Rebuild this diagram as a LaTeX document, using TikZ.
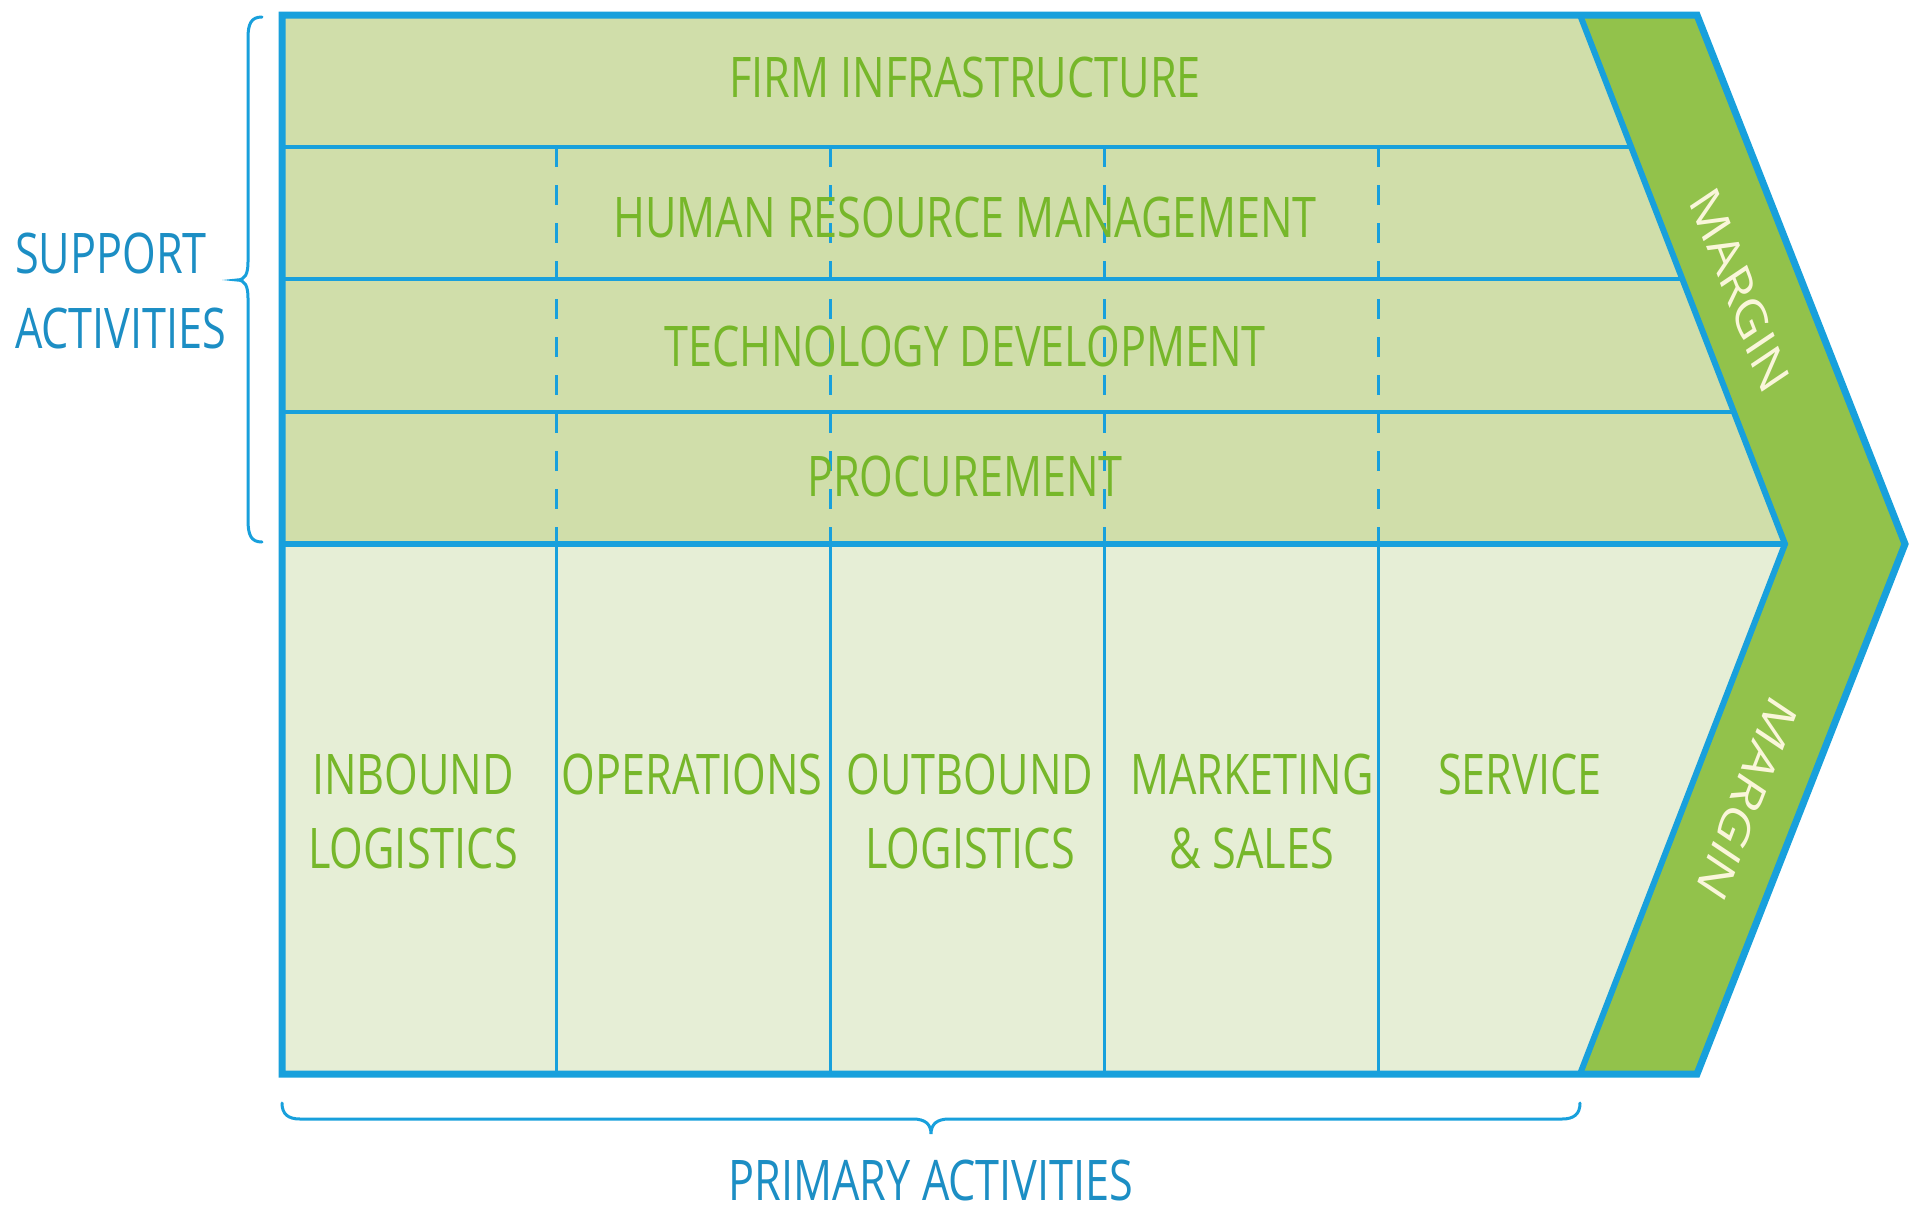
\documentclass[tikz,border=0pt]{standalone}
\usepackage{fontspec}
\setmainfont{Open Sans}
\newfontfamily\vcfont[FakeStretch=0.772]{Open Sans}
\definecolor{vcblue}{RGB}{24,160,220}
\definecolor{vctext}{RGB}{28,142,196}
\definecolor{vcgreen}{RGB}{118,183,42}
\definecolor{supfill}{RGB}{208,222,170}
\definecolor{prifill}{RGB}{230,238,214}
\definecolor{marfill}{RGB}{146,194,75}
\definecolor{marcream}{RGB}{250,246,218}
\begin{document}
\begin{tikzpicture}[x=1pt,y=-1pt,
  lbl/.style={font=\vcfont\fontsize{56}{64}\selectfont, text=vcgreen, inner sep=0pt, anchor=base},
  side/.style={font=\vcfont\fontsize{56}{64}\selectfont, text=vctext, inner sep=0pt},
  mtext/.style={font=\fontsize{56}{64}\selectfont, text=marcream, inner sep=0pt},
  rowline/.style={draw=vcblue, line width=3.5pt},
  colline/.style={draw=vcblue, line width=3pt},
  dashline/.style={draw=vcblue, line width=3pt, dash pattern=on 20pt off 18pt},
  bracestyle/.style={draw=vcblue, line width=3pt, line cap=round}]
\fill[white] (0,0) rectangle (1911,1210);
\useasboundingbox (0,0) rectangle (1911,1210);
% fills
\fill[supfill] (282,15) -- (1580,15) -- (1785,544) -- (282,544) -- cycle;
\fill[prifill] (282,544) -- (1785,544) -- (1580,1074) -- (282,1074) -- cycle;
\fill[marfill] (1580,15) -- (1697,15) -- (1905,544) -- (1697,1074) -- (1580,1074) -- (1785,544) -- cycle;
% dashed columns (support) and solid columns (primary)
\foreach \x in {556,830,1104,1378} {
  \draw[dashline] (\x,147) -- (\x,544);
  \draw[colline] (\x,544) -- (\x,1074);
}
% row lines
\draw[rowline] (282,147) -- (1631,147);
\draw[rowline] (282,279) -- (1682,279);
\draw[rowline] (282,412) -- (1734,412);
% divider
\draw[draw=vcblue, line width=6pt] (282,544) -- (1785,544);
% inner chevron
\draw[draw=vcblue, line width=6pt, line join=miter] (1580,15) -- (1785,544) -- (1580,1074);
% outer outline
\draw[draw=vcblue, line width=7pt, line join=miter] (282,15) -- (1697,15) -- (1905,544) -- (1697,1074) -- (282,1074) -- cycle;
% braces
\draw[bracestyle] (262,17) .. controls (251,17) and (248,24) .. (248,38) -- (248,262)
  .. controls (248,274) and (245,280) .. (237,280)
  .. controls (245,280) and (248,286) .. (248,298) -- (248,520)
  .. controls (248,535) and (251,542) .. (262,542);
\draw[bracestyle] (282,1103) .. controls (282,1114) and (288,1119) .. (300,1119) -- (913,1119)
  .. controls (925,1119) and (931,1124) .. (931,1134)
  .. controls (931,1124) and (937,1119) .. (949,1119) -- (1562,1119)
  .. controls (1574,1119) and (1580,1114) .. (1580,1103);
% support labels
\node[lbl] (firm) at (965,97) {FIRM INFRASTRUCTURE};
\node[lbl] (hrm) at (965,237) {HUMAN RESOURCE MANAGEMENT};
\node[lbl] (tech) at (965,366) {TECHNOLOGY DEVELOPMENT};
\node[lbl] (proc) at (965,496) {PROCUREMENT};
% primary labels
\node[lbl] (in1) at (413,794) {INBOUND};
\node[lbl] (in2) at (413,868) {LOGISTICS};
\node[lbl] (ops) at (692,794) {OPERATIONS};
\node[lbl] (out1) at (970,794) {OUTBOUND};
\node[lbl] (out2) at (970,868) {LOGISTICS};
\node[lbl] (mk1) at (1252,794) {MARKETING};
\node[lbl] (mk2) at (1252,868) {\&~SALES};
\node[lbl] (serv) at (1520,794) {SERVICE};
% side labels
\node[side, anchor=base west] (sup1) at (15,273) {SUPPORT};
\node[side, anchor=base west] (sup2) at (15,348) {ACTIVITIES};
\node[side, anchor=base] (prim) at (931,1200) {PRIMARY ACTIVITIES};
% margin labels
\begin{scope}[shift={(1740,290)}, xscale=0.76]
  \node[mtext, rotate=-63, transform shape] (m1) at (0,0) {MARGIN};
\end{scope}
\begin{scope}[shift={(1747,799)}, xscale=0.76]
  \node[mtext, rotate=-117, transform shape] (m2) at (0,0) {MARGIN};
\end{scope}
\end{tikzpicture}
\end{document}
